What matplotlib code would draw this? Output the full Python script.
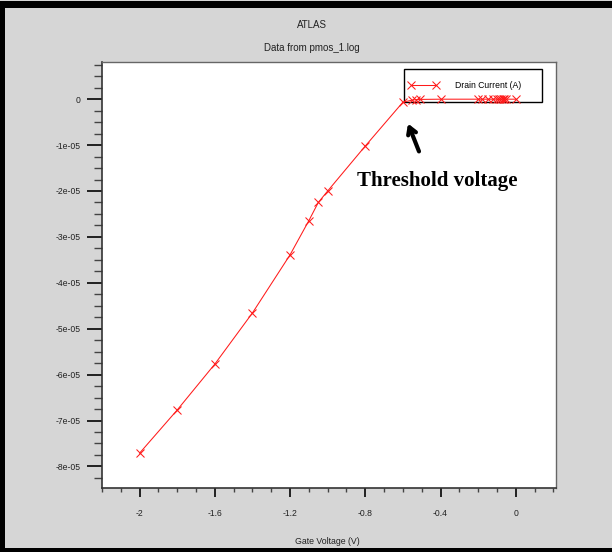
import matplotlib
matplotlib.use("Agg")
import matplotlib.pyplot as plt
from matplotlib.ticker import MultipleLocator, FuncFormatter
from matplotlib.patches import Rectangle

# ---- data ----
gate_voltage = [0.0, -0.05, -0.06, -0.07, -0.08, -0.09, -0.10, -0.12, -0.15, -0.18,
                -0.20, -0.40, -0.51, -0.53, -0.55, -0.60, -0.80, -1.00, -1.05, -1.10,
                -1.20, -1.40, -1.60, -1.80, -2.00]
drain_current = [0.0, -1e-10, -1e-10, -1e-10, -1e-10, -1e-10, -2e-10, -2e-10, -3e-10, -4e-10,
                 -5e-10, -2e-9, -5e-8, -1e-7, -2e-7, -6.5e-7, -1.02e-5, -2.0e-5, -2.25e-5, -2.645e-5,
                 -3.39e-5, -4.656e-5, -5.77e-5, -6.77e-5, -7.71e-5]
series_label = "Drain Current (A)"
title1 = "ATLAS"
title2 = "Data from pmos_1.log"
x_label = "Gate Voltage (V)"
annotation_text = "Threshold voltage"

W, H = 612, 552
BG = "#d6d6d6"
fig = plt.figure(figsize=(W / 100, H / 100), dpi=100, facecolor=BG)

def fx(px):
    return px / W

def fy(py):
    return 1 - py / H

# frame bands
fig.patches.append(Rectangle((0, fy(8)), 1, fy(1) - fy(8), transform=fig.transFigure,
                             facecolor="black", edgecolor="none", zorder=0))
fig.patches.append(Rectangle((0, 0), fx(4.5), fy(1), transform=fig.transFigure,
                             facecolor="black", edgecolor="none", zorder=0))
fig.patches.append(Rectangle((0, 0), 1, fy(547.5), transform=fig.transFigure,
                             facecolor="black", edgecolor="none", zorder=0))

left, right, top, bottom = 102, 556, 62, 488
ax = fig.add_axes([fx(left), fy(bottom), fx(right) - fx(left), fy(top) - fy(bottom)])
ax.set_facecolor("white")

ax.plot(gate_voltage, drain_current, color="#ff1a1a", lw=0.75, marker="x",
        markersize=5.2, markeredgewidth=0.75, label=series_label, zorder=3)

ax.set_xlim(-2.2, 0.214)
ax.set_ylim(-8.47e-5, 8.1e-6)

ax.xaxis.set_major_locator(MultipleLocator(0.4))
ax.xaxis.set_minor_locator(MultipleLocator(0.1))
ax.yaxis.set_major_locator(MultipleLocator(1e-5))
ax.yaxis.set_minor_locator(MultipleLocator(2.5e-6))

def yfmt(v, pos):
    if abs(v) < 1e-12:
        return "0"
    return f"{v:.0e}"

def xfmt(v, pos):
    if abs(v) < 1e-9:
        return "0"
    return f"{v:g}"

ax.yaxis.set_major_formatter(FuncFormatter(yfmt))
ax.xaxis.set_major_formatter(FuncFormatter(xfmt))

ax.tick_params(axis="y", which="major", direction="out", length=10.8, width=1.4,
               color="#222222", pad=4.5, labelsize=6.2, labelcolor="#222222")
ax.tick_params(axis="y", which="minor", direction="out", length=5.8, width=1.0, color="#444444")
ax.tick_params(axis="x", which="major", direction="out", length=6.5, width=1.4,
               color="#222222", pad=8.5, labelsize=6.2, labelcolor="#222222")
ax.tick_params(axis="x", which="minor", direction="out", length=3.0, width=1.0, color="#444444")
for lab in ax.get_xticklabels() + ax.get_yticklabels():
    lab.set_fontfamily("Liberation Sans")

for side in ["left", "bottom"]:
    ax.spines[side].set_color("#333333")
    ax.spines[side].set_linewidth(1.2)
for side in ["top", "right"]:
    ax.spines[side].set_color("#666666")
    ax.spines[side].set_linewidth(1.0)

# titles and axis label
fig.text(fx(312), fy(25), title1, ha="center", va="center", fontsize=7,
         family="Liberation Sans", color="#222222")
fig.text(fx(312), fy(48), title2, ha="center", va="center", fontsize=7,
         family="Liberation Sans", color="#222222")
fig.text(fx(327), fy(541), x_label, ha="center", va="center", fontsize=6.3,
         family="Liberation Sans", color="#222222")

# legend box
ax.add_patch(Rectangle((fx(404), fy(102)), fx(542) - fx(404), fy(69) - fy(102),
                       transform=fig.transFigure, facecolor="white", edgecolor="black",
                       lw=1.0, zorder=1, clip_on=False))
leg = ax.legend(loc="center left", bbox_to_anchor=(fx(404), fy(85.7)),
                bbox_transform=fig.transFigure, frameon=False, numpoints=2,
                handlelength=3.5, handletextpad=1.9, borderpad=0, borderaxespad=0.5,
                prop=dict(family="Liberation Sans", size=6.2))
leg.set_zorder(2)

# annotation
ax.annotate("", xy=(fx(407), fy(121)), xytext=(fx(420), fy(154)),
            xycoords="figure fraction", textcoords="figure fraction",
            arrowprops=dict(arrowstyle="->,head_length=0.5,head_width=0.3",
                            color="black", lw=3))
fig.text(fx(357), fy(181), annotation_text, ha="left", va="center", fontsize=15,
         family="Liberation Serif", fontweight="bold", color="black")

fig.savefig("out.png", dpi=100, facecolor=BG)
